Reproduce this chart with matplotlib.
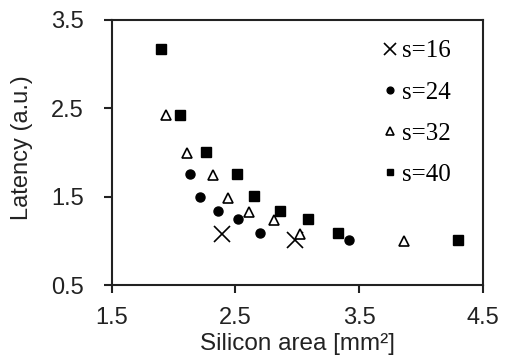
import matplotlib
matplotlib.use('Agg')
import matplotlib.pyplot as plt

# silicon area [mm2] and latency (a.u.) for each s
area_16 = [2.39, 2.98]
lat_16 = [1.08, 1.01]

area_24 = [2.13, 2.21, 2.36, 2.52, 2.70, 3.42]
lat_24 = [1.76, 1.50, 1.34, 1.25, 1.09, 1.01]

area_32 = [1.94, 2.11, 2.32, 2.44, 2.61, 2.81, 3.02, 3.86]
lat_32 = [2.42, 2.00, 1.75, 1.49, 1.33, 1.24, 1.08, 1.00]

area_40 = [1.90, 2.05, 2.26, 2.51, 2.65, 2.86, 3.09, 3.33, 4.30]
lat_40 = [3.17, 2.42, 2.01, 1.76, 1.51, 1.34, 1.25, 1.09, 1.01]

x_ticks = [1.5, 2.5, 3.5, 4.5]
y_ticks = [0.5, 1.5, 2.5, 3.5]

plt.rcParams['font.family'] = ['Liberation Sans', 'DejaVu Sans']

fig = plt.figure(figsize=(5.05, 3.61), dpi=100)
ax = fig.add_axes([0.2212, 0.2105, 0.7346, 0.7341])

ax.plot(area_16, lat_16, 'x', color='k', markersize=11, markeredgewidth=1.2,
        label='s=16')
ax.plot(area_24, lat_24, 'o', color='k', markersize=6.5, label='s=24')
ax.plot(area_32, lat_32, '^', markerfacecolor='white', markeredgecolor='k',
        markersize=7, markeredgewidth=1.2, label='s=32')
ax.plot(area_40, lat_40, 's', color='k', markersize=6.5, label='s=40')

ax.set_xlim(1.5, 4.5)
ax.set_ylim(0.5, 3.5)
ax.set_xticks(x_ticks)
ax.set_yticks(y_ticks)
ax.set_xticklabels([str(v) for v in x_ticks], fontsize=17)
ax.set_yticklabels([str(v) for v in y_ticks], fontsize=17)
ax.tick_params(direction='out', length=6, width=1.5, colors='#222222')
ax.tick_params(axis='y', pad=14)
ax.tick_params(axis='x', pad=10)
for sp in ax.spines.values():
    sp.set_linewidth(1.5)
    sp.set_color('#222222')

ax.set_xlabel('Silicon area [mm²]', fontsize=17.5, color='#222222', labelpad=3)
ax.set_ylabel('Latency (a.u.)', fontsize=17, color='#222222')
ax.yaxis.set_label_coords(-0.212, 0.52)

leg = ax.legend(loc='upper right', bbox_to_anchor=(0.968, 1.0), frameon=False,
                markerscale=0.75,
                prop={'family': 'Liberation Serif', 'size': 18},
                handlelength=0.6, handletextpad=0.2, labelspacing=0.75,
                borderaxespad=0.4)

fig.savefig('out.png', dpi=100)
